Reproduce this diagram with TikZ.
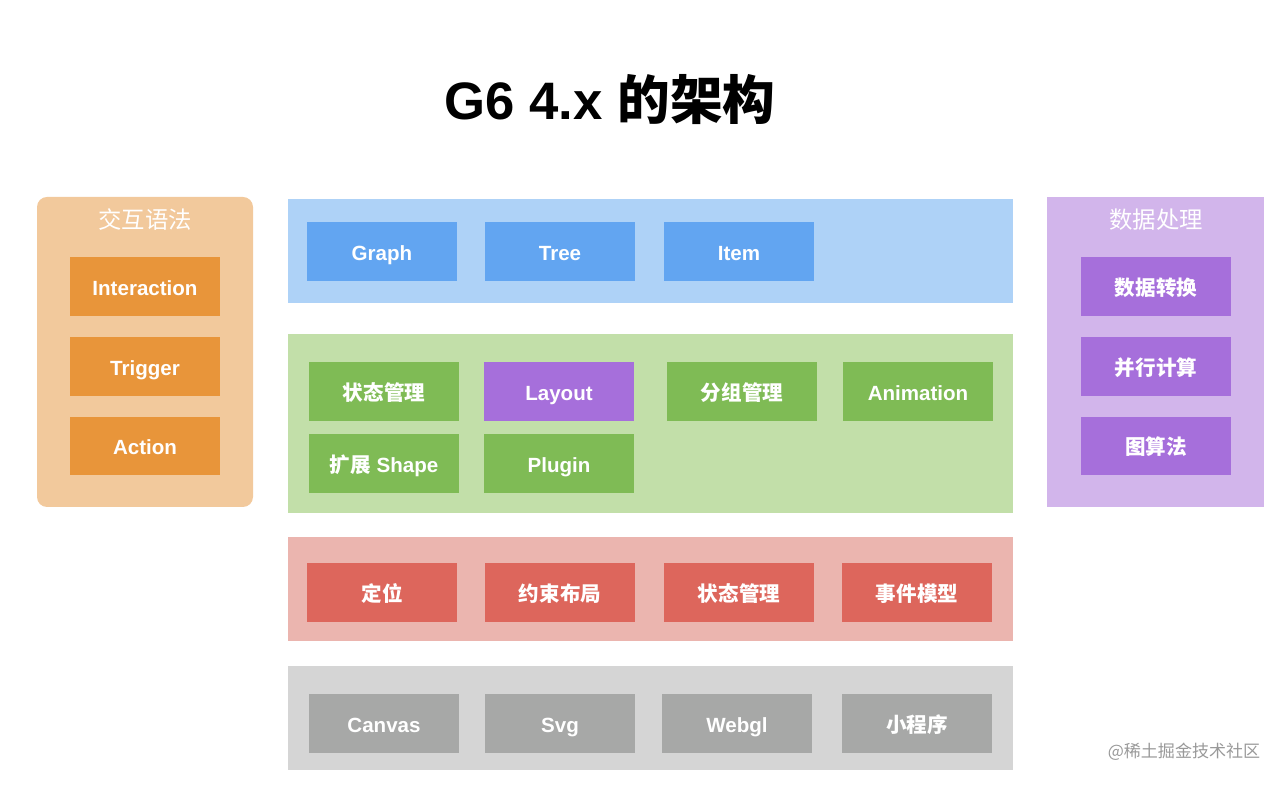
\documentclass[tikz,border=0pt]{standalone}
\usepackage{fontspec}
\setmainfont{Liberation Sans}
\newfontfamily\cjk{Noto Sans CJK SC}
\usetikzlibrary{positioning}
\usepackage{xcolor}
\definecolor{orangebg}{RGB}{242,201,156}
\definecolor{orangebox}{RGB}{232,149,58}
\definecolor{bluebg}{RGB}{174,210,247}
\definecolor{bluebox}{RGB}{98,165,241}
\definecolor{greenbg}{RGB}{194,223,169}
\definecolor{greenbox}{RGB}{127,187,85}
\definecolor{redbg}{RGB}{235,181,175}
\definecolor{redbox}{RGB}{221,102,92}
\definecolor{graybg}{RGB}{213,213,213}
\definecolor{graybox}{RGB}{167,168,167}
\definecolor{purplebg}{RGB}{210,181,235}
\definecolor{purplebox}{RGB}{166,111,219}

\begin{document}
\begin{tikzpicture}[
  x=0.02cm, y=-0.02cm,
  mod/.style={rectangle, minimum width=3cm, minimum height=1.18cm, inner sep=0pt, text height=1.9ex, text depth=0.05ex, text=white, font=\fontsize{11.7}{13}\selectfont\bfseries},
  cmod/.style={mod, font=\fontsize{11.7}{13}\selectfont\cjk\bfseries},
  paneltitle/.style={text=white, inner sep=0pt, font=\fontsize{13.3}{15}\selectfont\cjk}
]
\useasboundingbox (0,0) rectangle (1286,786);

\node[font=\fontsize{30}{34}\selectfont\bfseries] (title) at (610,100) {G6 4.x {\cjk 的架构}};

\fill[orangebg, rounded corners=0.2cm] (37,197) rectangle (253,507);
\fill[purplebg] (1047,197) rectangle (1264,507);
\fill[bluebg] (288,199) rectangle (1013,303);
\fill[greenbg] (288,334) rectangle (1013,513);
\fill[redbg] (288,537) rectangle (1013,641);
\fill[graybg] (288,666) rectangle (1013,770);

\node[paneltitle] (interact) at (145,220) {交互语法};
\node[mod, fill=orangebox] (interaction) at (145,287) {Interaction};
\node[mod, fill=orangebox] (trigger) at (145,367) {Trigger};
\node[mod, fill=orangebox] (action) at (145,446) {Action};

\node[paneltitle] (data) at (1156,220) {数据处理};
\node[cmod, fill=purplebox] (convert) at (1156,287) {数据转换};
\node[cmod, fill=purplebox] (parallel) at (1156,367) {并行计算};
\node[cmod, fill=purplebox] (algo) at (1156,446) {图算法};

\node[mod, fill=bluebox] (graph) at (382,251.5) {Graph};
\node[mod, fill=bluebox] (tree) at (560,251.5) {Tree};
\node[mod, fill=bluebox] (item) at (739,251.5) {Item};

\node[cmod, fill=greenbox] (state) at (384,391.5) {状态管理};
\node[mod, fill=purplebox] (layout) at (559,391.5) {Layout};
\node[cmod, fill=greenbox] (group) at (742,391.5) {分组管理};
\node[mod, fill=greenbox] (animation) at (918,391.5) {Animation};
\node[mod, fill=greenbox] (shape) at (384,463.5) {{\cjk 扩展} Shape};
\node[mod, fill=greenbox] (plugin) at (559,463.5) {Plugin};

\node[cmod, fill=redbox] (position) at (382,592.5) {定位};
\node[cmod, fill=redbox] (constraint) at (560,592.5) {约束布局};
\node[cmod, fill=redbox] (gstate) at (739,592.5) {状态管理};
\node[cmod, fill=redbox] (event) at (917,592.5) {事件模型};

\node[mod, fill=graybox] (canvas) at (384,723.5) {Canvas};
\node[mod, fill=graybox] (svg) at (560,723.5) {Svg};
\node[mod, fill=graybox] (webgl) at (737,723.5) {Webgl};
\node[cmod, fill=graybox] (mini) at (917,723.5) {小程序};

\node[text=black!40, inner sep=0pt, font=\fontsize{9.7}{11}\selectfont\cjk] (mark) at (1184,752) {@稀土掘金技术社区};
\end{tikzpicture}
\end{document}
